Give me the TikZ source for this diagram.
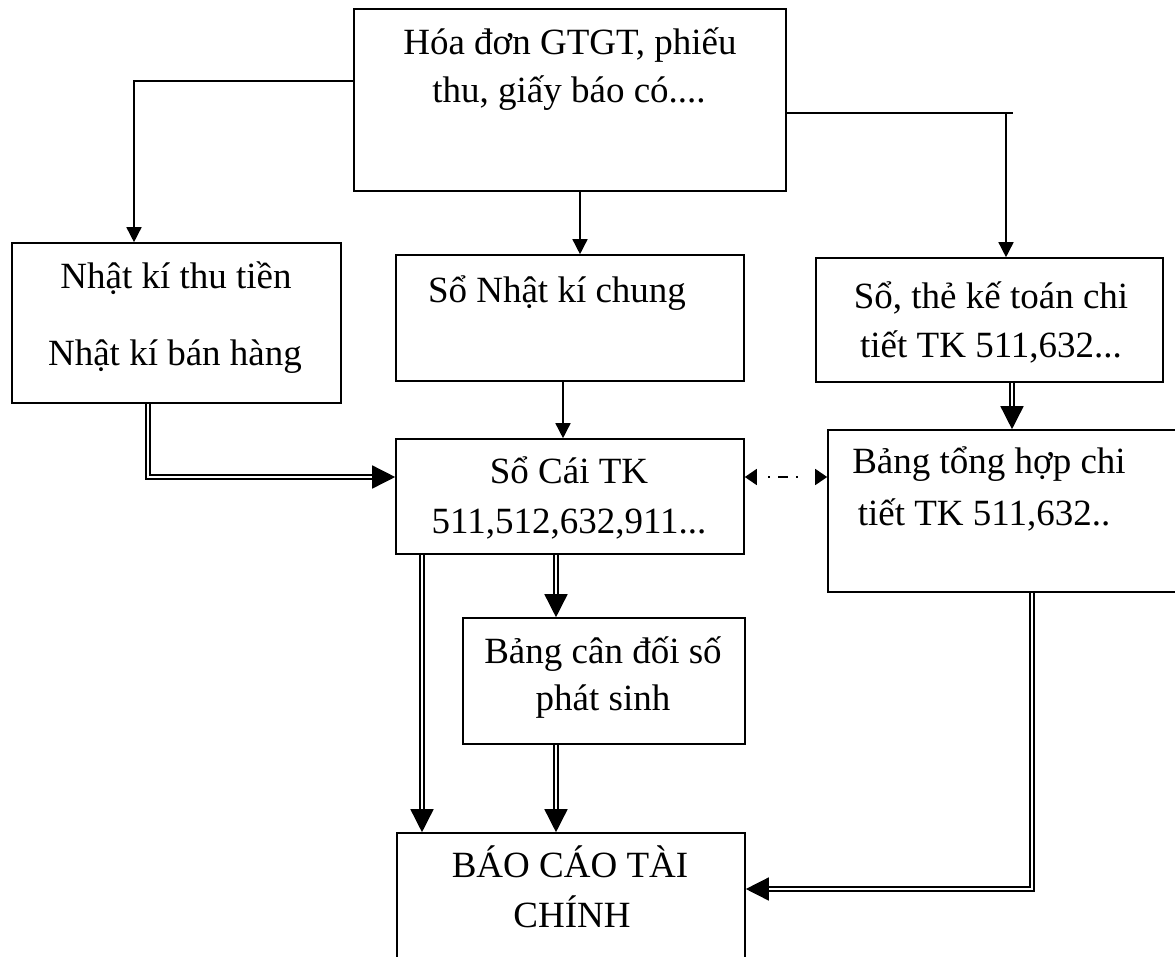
\documentclass[tikz,border=0pt]{standalone}
\usepackage{fontspec}
\setmainfont{Liberation Serif}
\usetikzlibrary{arrows.meta}
\begin{document}
\begin{tikzpicture}[x=1pt,y=-1pt,
  box/.style={draw, line width=1.6pt, inner sep=0pt},
  txt/.style={anchor=base, inner sep=0pt, font=\fontsize{37}{40}\selectfont},
  thin/.style={line width=1.5pt, -{Triangle[length=15pt,width=15pt]}},
  dbl/.style={line width=1.5pt, double, double distance=2.6pt, -{Triangle[length=23pt,width=23pt]}},
  dashdot/.style={line width=1.5pt, {Triangle[length=12pt,width=16pt]}-{Triangle[length=12pt,width=16pt]},
    dash pattern=on 0pt off 12pt on 2pt off 8pt on 10pt off 8pt on 2pt off 30pt},
]
\useasboundingbox (0,0) rectangle (1175,956);

% boxes
\node[box, minimum width=432pt, minimum height=182pt] (top) at (570,100) {};
\node[box, minimum width=329pt, minimum height=160pt] (left) at (176.5,323) {};
\node[box, minimum width=348pt, minimum height=126pt] (mid) at (570,318) {};
\node[box, minimum width=347pt, minimum height=124pt] (right) at (989.5,320) {};
\node[box, minimum width=348pt, minimum height=115pt] (socai) at (570,496.5) {};
\node[box, minimum width=362pt, minimum height=162pt] (tonghop) at (1009,511) {};
\node[box, minimum width=282pt, minimum height=126pt] (candoi) at (604,681) {};
\node[box, minimum width=348pt, minimum height=142pt] (bctc) at (571,904) {};

% texts
\node[txt] (t1a) at (570,54) {Hóa đơn GTGT, phiếu};
\node[txt] (t1b) at (569,102) {thu, giấy báo có....};
\node[txt] (t2a) at (176,288) {Nhật kí thu tiền};
\node[txt] (t2b) at (175,365) {Nhật kí bán hàng};
\node[txt] (t3) at (557,302) {Sổ Nhật kí chung};
\node[txt] (t4a) at (991,308) {Sổ, thẻ kế toán chi};
\node[txt] (t4b) at (991,357) {tiết TK 511,632...};
\node[txt] (t5a) at (569,483) {Sổ Cái TK};
\node[txt] (t5b) at (569,533) {511,512,632,911...};
\node[txt] (t6a) at (989,473) {Bảng tổng hợp chi};
\node[txt] (t6b) at (984,525) {tiết TK 511,632..};
\node[txt] (t7a) at (603,663) {Bảng cân đối số};
\node[txt] (t7b) at (603,710) {phát sinh};
\node[txt] (t8a) at (570,877) {BÁO CÁO TÀI};
\node[txt] (t8b) at (572,927) {CHÍNH};

% bend points of the connectors
\coordinate (j1) at (134,81);
\coordinate (j2) at (580,0);
\coordinate (j3) at (1006,113);
\coordinate (j3end) at (1013,113);
\coordinate (j4) at (563,0);
\coordinate (j5) at (148,477);
\coordinate (j6) at (1012,0);
\coordinate (j7) at (0,477);
\coordinate (j8) at (556,0);
\coordinate (j9) at (422,0);
\coordinate (j10) at (1032,889);

% single connectors from the source documents
\draw[thin] (top.west |- j1) -| (j1 |- left.north);
\draw[thin] (top.south -| j2) -- (mid.north -| j2);
\draw[line width=1.5pt] (top.east |- j3) -- (j3end);
\draw[thin] (j3) -- (j3 |- right.north);
\draw[thin] (mid.south -| j4) -- (socai.north -| j4);

% double connectors
\draw[dbl] (left.south -| j5) |- (socai.west |- j5);
\draw[dbl] (right.south -| j6) -- (tonghop.north -| j6);
\draw[dbl] (socai.south -| j8) -- (candoi.north -| j8);
\draw[dbl] (socai.south -| j9) -- (bctc.north -| j9);
\draw[dbl] (candoi.south -| j8) -- (bctc.north -| j8);
\draw[dbl] (tonghop.south -| j10) |- (bctc.east |- j10);

% cross-check between ledger and detail summary
\draw[dashdot] (socai.east |- j7) -- (tonghop.west |- j7);
\end{tikzpicture}
\end{document}
